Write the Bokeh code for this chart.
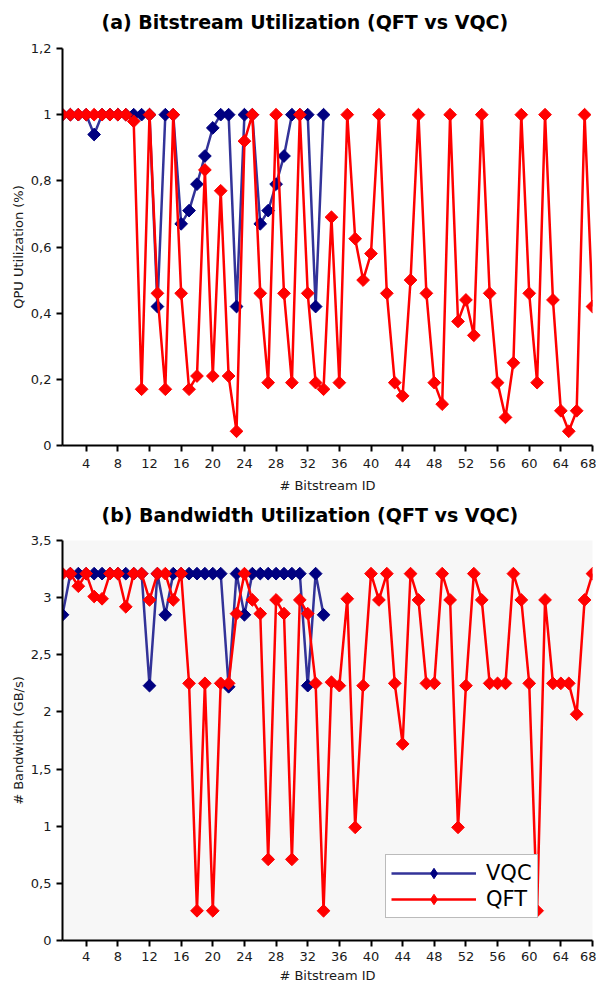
import numpy as np
from bokeh.plotting import figure
from bokeh.layouts import column
from bokeh.models import FixedTicker, CustomJSTickFormatter, Range1d, Legend, LegendItem, Title
from bokeh.embed import file_html
from bokeh.resources import INLINE

# ---------------- data ----------------
ids_qft = list(range(1, 69))
ids_vqc = list(range(1, 35))

qpu_vqc = [1, 1, 1, 1, 0.94, 1, 1, 1, 1, 1,
           1, 1, 0.42, 1, 1, 0.67, 0.71, 0.79, 0.875, 0.96,
           1, 1, 0.42, 1, 1, 0.67, 0.71, 0.79, 0.875, 1,
           1, 1, 0.42, 1]

qpu_qft = [1, 1, 1, 1, 1, 1, 1, 1, 1, 0.98,
           0.17, 1, 0.46, 0.17, 1, 0.46, 0.17, 0.21, 0.833, 0.21,
           0.77, 0.21, 0.043, 0.92, 1, 0.46, 0.19, 1, 0.46, 0.19,
           1, 0.46, 0.19, 0.17, 0.69, 0.19, 1, 0.625, 0.5, 0.58,
           1, 0.46, 0.19, 0.15, 0.5, 1, 0.46, 0.19, 0.125, 1,
           0.375, 0.44, 0.333, 1, 0.46, 0.19, 0.085, 0.25, 1, 0.46,
           0.19, 1, 0.44, 0.105, 0.043, 0.105, 1, 0.42]

bw_vqc = [2.85, 3.21, 3.21, 3.21, 3.21, 3.21, 3.21, 3.21, 3.21, 3.21,
          3.21, 2.23, 3.21, 2.85, 3.21, 3.21, 3.21, 3.21, 3.21, 3.21,
          3.21, 2.22, 3.21, 2.85, 3.21, 3.21, 3.21, 3.21, 3.21, 3.21,
          3.21, 2.23, 3.21, 2.85]

bw_qft = [3.21, 3.21, 3.10, 3.21, 3.01, 2.99, 3.21, 3.21, 2.92, 3.21,
          3.21, 2.98, 3.21, 3.21, 2.98, 3.21, 2.25, 0.26, 2.25, 0.26,
          2.25, 2.25, 2.86, 3.21, 2.98, 2.86, 0.71, 2.98, 2.86, 0.71,
          2.98, 2.86, 2.25, 0.26, 2.26, 2.23, 2.99, 0.99, 2.23, 3.21,
          2.98, 3.21, 2.25, 1.72, 3.21, 2.98, 2.25, 2.25, 3.21, 2.98,
          0.99, 2.23, 3.21, 2.98, 2.25, 2.25, 2.25, 3.21, 2.98, 2.25,
          0.26, 2.98, 2.25, 2.25, 2.25, 1.98, 2.98, 3.21]

x_ticks = list(range(4, 69, 4))
top_y_ticks = [0, 0.2, 0.4, 0.6, 0.8, 1.0, 1.2]
bot_y_ticks = [0, 0.5, 1.0, 1.5, 2.0, 2.5, 3.0, 3.5]

titles = ["(a) Bitstream Utilization (QFT vs VQC)",
          "(b) Bandwidth Utilization (QFT vs VQC)"]
y_labels = ["QPU Utilization (%)", "# Bandwidth (GB/s)"]
x_label = "# Bitstream ID"
series_names = ["VQC", "QFT"]

NAVY = "#000080"
RED = "#ff0000"
FONT = "DejaVu Sans"

fmt = CustomJSTickFormatter(code="var s = (Math.round(tick*10)/10).toString(); return s.replace('.', ',');")


def make_fig(title, ylab, yticks, ymax, vqc, qft, height, bt, bb, bg, legend, xstand, tstand):
    p = figure(width=596, height=height, output_backend="svg", toolbar_location=None,
               x_range=Range1d(1, 68), y_range=Range1d(0, ymax),
               min_border_left=62, min_border_right=4,
               min_border_top=bt, min_border_bottom=bb,
               background_fill_color=bg, border_fill_color="white",
               title=None)
    p.outline_line_color = None
    p.grid.visible = False
    # small spacer title between frame and the real title
    p.add_layout(Title(text=" ", text_font_size="5px", standoff=0), "above")
    p.add_layout(Title(text=title, align="left", offset=39, text_font=FONT,
                       text_font_style="bold", text_font_size="19px",
                       text_color="black", standoff=tstand), "above")

    for ax in (p.xaxis[0], p.yaxis[0]):
        ax.axis_line_width = 2
        ax.axis_line_color = "black"
        ax.major_tick_line_width = 2
        ax.major_tick_line_color = "black"
        ax.major_tick_out = 6
        ax.major_tick_in = 0
        ax.minor_tick_line_color = None
        ax.major_label_text_font = FONT
        ax.major_label_text_font_size = "13px"
        ax.major_label_text_color = "#1a1a1a"
        ax.axis_label_text_font = FONT
        ax.axis_label_text_font_size = "13px"
        ax.axis_label_text_font_style = "normal"
        ax.axis_label_text_color = "#1a1a1a"
    p.xaxis.major_label_standoff = xstand[0]
    p.xaxis.axis_label_standoff = xstand[1]
    p.yaxis.major_label_standoff = 5
    p.yaxis.axis_label_standoff = 2

    p.xaxis.ticker = FixedTicker(ticks=x_ticks)
    p.xaxis.axis_label = x_label
    p.yaxis.ticker = FixedTicker(ticks=yticks)
    p.yaxis.formatter = fmt
    p.yaxis.axis_label = ylab

    l1 = p.line(ids_vqc, vqc, line_color=NAVY, line_width=2.5, line_alpha=0.8)
    p.scatter(ids_vqc, vqc, marker="square", angle=np.pi / 4, size=9,
              fill_color=NAVY, line_color=NAVY)
    l2 = p.line(ids_qft, qft, line_color=RED, line_width=2.5)
    p.scatter(ids_qft, qft, marker="square", angle=np.pi / 4, size=9,
              fill_color=RED, line_color=RED)

    if legend:
        # legend-only marker renderers placed outside the visible x range
        d1 = p.scatter([-100], [0], marker="diamond", size=12, fill_color=NAVY, line_color=NAVY)
        d2 = p.scatter([-100], [0], marker="diamond", size=12, fill_color=RED, line_color=RED)
        lg = Legend(items=[LegendItem(label=series_names[0], renderers=[l1, d1]),
                           LegendItem(label=series_names[1], renderers=[l2, d2])],
                    location=(323, 22))
        lg.label_text_font = FONT
        lg.label_text_font_size = "21px"
        lg.label_text_color = "black"
        lg.glyph_width = 85
        lg.glyph_height = 26
        lg.label_height = 24
        lg.label_standoff = 10
        lg.spacing = 0
        lg.padding = 5
        lg.margin = 0
        lg.border_line_color = "#777777"
        lg.border_line_width = 1
        lg.background_fill_color = "white"
        lg.background_fill_alpha = 1.0
        p.add_layout(lg, "center")
    return p


p1 = make_fig(titles[0], y_labels[0], top_y_ticks, 1.2, qpu_vqc, qpu_qft,
              495, 47, 50, "white", False, (7, 7), 16)
p2 = make_fig(titles[1], y_labels[1], bot_y_ticks, 3.5, bw_vqc, bw_qft,
              492, 45, 47, "#f7f7f7", True, (5, 4), 13)

layout = column(p1, p2, spacing=0)
open("out.html", "w").write(file_html(layout, INLINE))
